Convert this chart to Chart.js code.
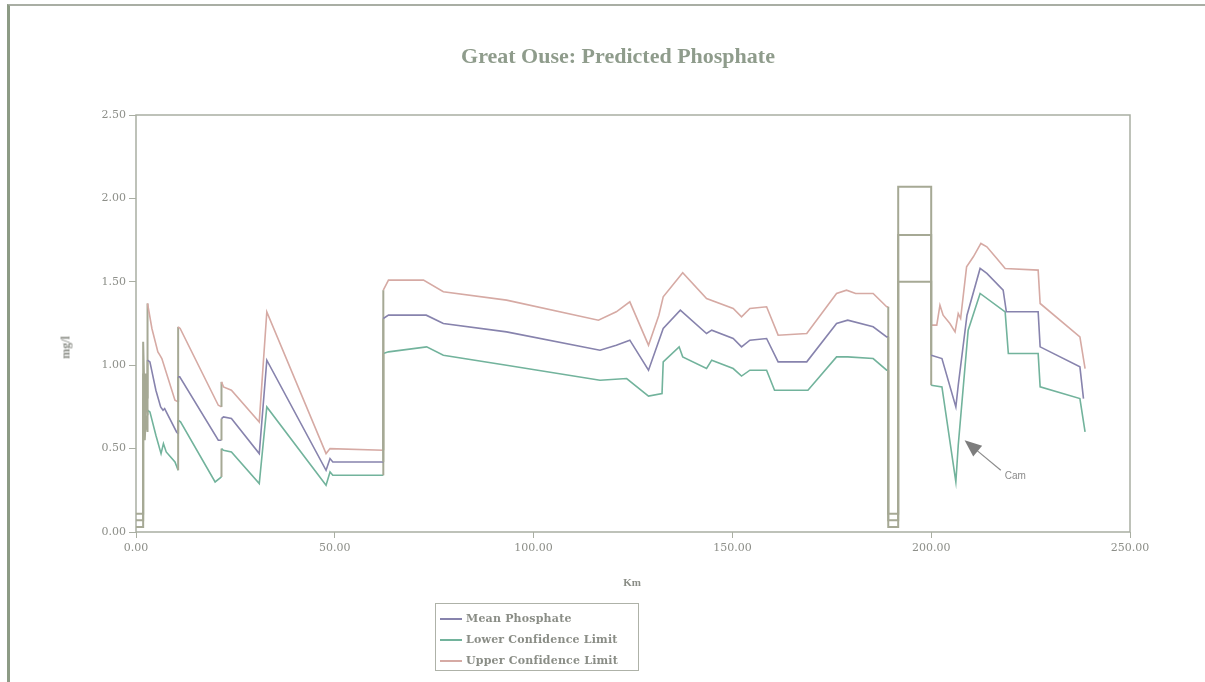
<!DOCTYPE html>
<html>
<head>
<meta charset="utf-8">
<title>Great Ouse: Predicted Phosphate</title>
<script src="https://cdn.jsdelivr.net/npm/chart.js@4.4.0/dist/chart.umd.min.js"></script>
<style>
  html, body { margin: 0; padding: 0; background: #fff; }
  body { width: 1205px; height: 682px; position: relative; overflow: hidden; font-family: 'Liberation Serif', serif; }
  #frame { position: absolute; left: 7px; top: 4px; width: 1198px; height: 678px; border-left: 3px solid #8d9b85; border-top: 2px solid #a9aea4; }
  #chart { position: absolute; left: 0; top: 0; }
  #title { position: absolute; left: 0; top: 43px; width: 1236px; text-align: center; font: bold 22px 'Liberation Serif', serif; color: #8f9c8c; }
  #ytitle { position: absolute; left: 50px; top: 340px; width: 32px; text-align: center; transform: rotate(-90deg); font: bold 12px 'Liberation Serif', serif; color: #8a8d86; }
  #xtitle { position: absolute; left: 600px; top: 576px; width: 64px; text-align: center; font: bold 11px 'Liberation Serif', serif; color: #8a8d86; }
  #legend { position: absolute; left: 435px; top: 603px; width: 204px; height: 68px; border: 1px solid #aeb2a8; box-sizing: border-box; padding: 4px 0 0 4px; }
  .row { height: 21px; display: flex; align-items: center; font: bold 11px 'DejaVu Serif', serif; color: #8a8d86; letter-spacing: 0.2px; }
  .swatch { width: 22px; height: 0; border-top: 2px solid; margin-right: 4px; }
</style>
</head>
<body>
<div id="frame"></div>
<canvas id="chart" width="1205" height="682"></canvas>
<div id="title">Great Ouse: Predicted Phosphate</div>
<div id="ytitle">mg/l</div>
<div id="xtitle">Km</div>
<div id="legend"></div>
<script>
// --- data (km along river, mg/l) ---
const meanKm = [0, 1.8, 1.8, 2.2, 2.5, 2.9, 2.9, 3.5, 5.0, 6.2, 6.8, 7.2, 10.2, 10.6, 10.6, 11.0, 20.7, 21.5, 21.5, 22.0, 24.0, 31.0, 32.9, 47.8, 48.8, 49.5, 62.2, 62.2, 63.5, 73.0, 77.3, 93.2, 116.7, 120.8, 124.2, 128.9, 132.6, 136.9, 143.5, 144.8, 150.2, 152.3, 154.4, 158.6, 161.5, 168.7, 176.2, 179.0, 185.4, 188.8, 189.2, 189.2, 191.7, 191.7, 200.0, 200.0, 202.7, 206.2, 206.8, 209.0, 212.3, 214.0, 218.1, 218.9, 226.9, 227.4, 237.4, 238.3];
const meanVal = [0.07, 0.07, 0.95, 0.62, 0.85, 0.70, 1.03, 1.02, 0.85, 0.75, 0.73, 0.74, 0.60, 0.59, 0.93, 0.93, 0.55, 0.55, 0.68, 0.69, 0.68, 0.47, 1.03, 0.37, 0.44, 0.42, 0.42, 1.28, 1.30, 1.30, 1.25, 1.20, 1.09, 1.12, 1.15, 0.97, 1.22, 1.33, 1.19, 1.21, 1.16, 1.11, 1.15, 1.16, 1.02, 1.02, 1.25, 1.27, 1.23, 1.17, 1.17, 0.07, 0.07, 1.78, 1.78, 1.06, 1.04, 0.75, 0.88, 1.30, 1.58, 1.55, 1.45, 1.32, 1.32, 1.11, 0.99, 0.80];

const lowerKm = [0, 1.8, 1.8, 2.2, 2.5, 2.9, 2.9, 3.5, 5.0, 6.3, 6.9, 7.6, 9.8, 10.6, 10.6, 11.2, 19.9, 21.5, 21.5, 22.0, 24.0, 31.0, 32.9, 47.8, 48.8, 49.5, 62.2, 62.2, 63.5, 73.1, 77.3, 93.2, 116.7, 123.4, 128.9, 132.3, 132.6, 136.6, 137.5, 143.5, 144.8, 150.2, 152.3, 154.4, 158.6, 160.6, 169.0, 176.2, 179.0, 185.4, 188.8, 189.2, 189.2, 191.7, 191.7, 200.0, 200.0, 202.7, 206.2, 206.8, 209.3, 212.3, 218.6, 219.4, 226.9, 227.4, 237.4, 238.7];
const lowerVal = [0.03, 0.03, 0.80, 0.55, 0.70, 0.60, 0.73, 0.72, 0.58, 0.47, 0.53, 0.48, 0.42, 0.37, 0.67, 0.66, 0.30, 0.33, 0.50, 0.49, 0.48, 0.29, 0.75, 0.28, 0.36, 0.34, 0.34, 1.07, 1.08, 1.11, 1.06, 1.00, 0.91, 0.92, 0.815, 0.83, 1.02, 1.11, 1.05, 0.98, 1.03, 0.98, 0.935, 0.97, 0.97, 0.85, 0.85, 1.05, 1.05, 1.04, 0.97, 0.97, 0.03, 0.03, 1.50, 1.50, 0.88, 0.87, 0.30, 0.52, 1.21, 1.43, 1.32, 1.07, 1.07, 0.87, 0.80, 0.60];

const upperKm = [0, 1.8, 1.8, 2.2, 2.5, 2.9, 2.9, 4.0, 5.5, 6.0, 6.5, 9.8, 10.6, 10.6, 11.1, 20.7, 21.5, 21.5, 22.0, 24.0, 31.0, 32.9, 47.8, 48.8, 62.2, 62.2, 63.5, 72.3, 77.3, 93.2, 116.3, 120.8, 124.2, 128.9, 131.5, 132.6, 137.5, 143.5, 150.2, 152.3, 154.4, 158.6, 161.5, 168.7, 176.2, 178.7, 181.0, 185.4, 188.8, 189.2, 189.2, 191.7, 191.7, 200.0, 200.0, 201.4, 202.2, 203.0, 204.7, 206.0, 206.8, 207.4, 208.9, 210.6, 212.5, 214.0, 216.5, 218.6, 226.9, 227.4, 237.4, 238.7];
const upperVal = [0.11, 0.11, 1.14, 0.75, 0.95, 0.80, 1.37, 1.22, 1.08, 1.06, 1.04, 0.79, 0.78, 1.23, 1.22, 0.76, 0.75, 0.90, 0.87, 0.85, 0.66, 1.32, 0.47, 0.50, 0.49, 1.45, 1.51, 1.51, 1.44, 1.39, 1.27, 1.32, 1.38, 1.12, 1.30, 1.41, 1.555, 1.40, 1.34, 1.29, 1.34, 1.35, 1.18, 1.19, 1.43, 1.45, 1.43, 1.43, 1.35, 1.35, 0.11, 0.11, 2.07, 2.07, 1.24, 1.24, 1.36, 1.30, 1.25, 1.20, 1.31, 1.28, 1.59, 1.65, 1.73, 1.71, 1.64, 1.58, 1.57, 1.37, 1.17, 0.98];

const seriesNames = ['Mean Phosphate', 'Lower Confidence Limit', 'Upper Confidence Limit'];
const xTicks = [0, 50, 100, 150, 200, 250];
const yTicks = [0, 0.5, 1, 1.5, 2, 2.5];

// annotation "Cam": arrow tip and tail (km, mg/l)
const camLabel = 'Cam';
const camTip = [208.4, 0.55];
const camTail = [217.5, 0.37];

const colors = ['#8783ad', '#72b39c', '#d6aaa4'];
const stepColor = '#a6a995';
const frameColor = '#a9aea2';
const tickColor = '#8d8f89';

const toPoints = (km, val) => km.map((x, i) => ({ x, y: val[i] }));

// vertical jumps and the weir section look grey in the scan
const isStep = (ctx) => {
  const a = ctx.p0.parsed.x, b = ctx.p1.parsed.x;
  return a === b || b <= 2.9 || (a >= 189.2 && b <= 200);
};

const framePlugin = {
  id: 'frame',
  beforeDatasetsDraw(chart) {
    const { ctx, chartArea: a } = chart;
    ctx.save();
    ctx.strokeStyle = frameColor;
    ctx.lineWidth = 1.5;
    ctx.strokeRect(a.left, a.top, a.right - a.left, a.bottom - a.top);
    ctx.restore();
  }
};

const camPlugin = {
  id: 'cam',
  afterDatasetsDraw(chart) {
    const { ctx, scales: { x, y } } = chart;
    const tx = x.getPixelForValue(camTip[0]), ty = y.getPixelForValue(camTip[1]);
    const ex = x.getPixelForValue(camTail[0]), ey = y.getPixelForValue(camTail[1]);
    const ang = Math.atan2(ty - ey, tx - ex);
    ctx.save();
    ctx.strokeStyle = '#8c8c8c';
    ctx.fillStyle = '#7d7d7d';
    ctx.lineWidth = 1.2;
    ctx.beginPath(); ctx.moveTo(ex, ey); ctx.lineTo(tx - 10 * Math.cos(ang), ty - 10 * Math.sin(ang)); ctx.stroke();
    ctx.beginPath();
    ctx.moveTo(tx, ty);
    ctx.lineTo(tx - 17 * Math.cos(ang) + 7 * Math.sin(ang), ty - 17 * Math.sin(ang) - 7 * Math.cos(ang));
    ctx.lineTo(tx - 17 * Math.cos(ang) - 7 * Math.sin(ang), ty - 17 * Math.sin(ang) + 7 * Math.cos(ang));
    ctx.closePath(); ctx.fill();
    ctx.font = '10px "Liberation Sans", sans-serif';
    ctx.fillStyle = '#8a8a8a';
    ctx.textBaseline = 'middle';
    ctx.fillText(camLabel, ex + 4, ey + 6);
    ctx.restore();
  }
};

const kms = [meanKm, lowerKm, upperKm];
const vals = [meanVal, lowerVal, upperVal];

const chart = new Chart(document.getElementById('chart'), {
  type: 'line',
  data: {
    datasets: seriesNames.map((label, i) => ({
      label,
      data: toPoints(kms[i], vals[i]),
      borderColor: colors[i],
      borderWidth: 1.6,
      pointRadius: 0,
      tension: 0,
      fill: false,
      segment: {
        borderColor: ctx => isStep(ctx) ? stepColor : undefined,
        borderWidth: ctx => isStep(ctx) ? 2 : undefined
      }
    }))
  },
  options: {
    responsive: false,
    animation: false,
    layout: { padding: { left: 76, top: 115, right: 75, bottom: 120 } },
    plugins: { legend: { display: false }, title: { display: false }, tooltip: { enabled: false } },
    scales: {
      x: {
        type: 'linear', min: 0, max: 250,
        afterFit: s => { s.height = 30; },
        afterBuildTicks: s => { s.ticks = xTicks.map(v => ({ value: v })); },
        grid: { display: true, drawOnChartArea: false, drawTicks: true, tickLength: 6, color: frameColor },
        border: { display: false },
        ticks: { padding: 4, color: tickColor, font: { family: 'DejaVu Serif', size: 11 }, callback: v => v.toFixed(2), maxRotation: 0 }
      },
      y: {
        type: 'linear', min: 0, max: 2.5,
        afterFit: s => { s.width = 60; },
        afterBuildTicks: s => { s.ticks = yTicks.map(v => ({ value: v })); },
        grid: { display: true, drawOnChartArea: false, drawTicks: true, tickLength: 7, color: frameColor },
        border: { display: false },
        ticks: { padding: 3, color: tickColor, font: { family: 'DejaVu Serif', size: 11 }, callback: v => v.toFixed(2) }
      }
    }
  },
  plugins: [framePlugin, camPlugin]
});

// legend box built from the chart's datasets
const legend = document.getElementById('legend');
chart.data.datasets.forEach(ds => {
  const row = document.createElement('div');
  row.className = 'row';
  const sw = document.createElement('span');
  sw.className = 'swatch';
  sw.style.borderTopColor = ds.borderColor;
  row.appendChild(sw);
  row.appendChild(document.createTextNode(ds.label));
  legend.appendChild(row);
});
</script>
</body>
</html>
